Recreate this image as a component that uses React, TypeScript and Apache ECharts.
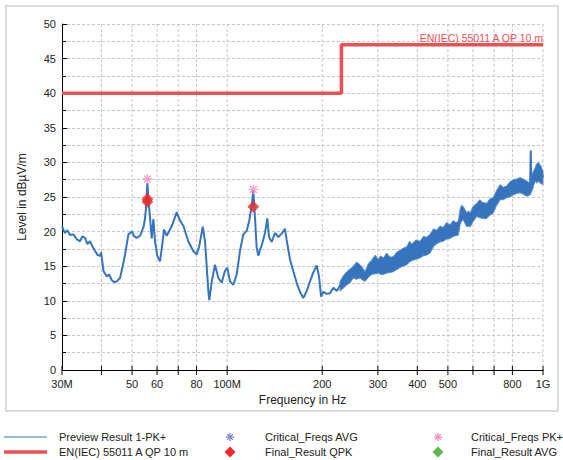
import React, { useEffect, useRef } from "react";
import * as echarts from "echarts";

// Preview Result 1-PK+ (frequency in MHz, level in dBµV/m)
const traceFreqs = [
  30.0, 30.6, 31.2, 31.8, 32.6, 33.4, 34.2, 34.8, 35.5, 36.1, 36.8, 37.5, 38.2, 38.9, 39.6, 39.9,
  40.6, 41.6, 42.3, 43.1, 43.9, 44.7, 45.8, 46.6, 47.5, 48.7, 49.9, 50.8, 51.7, 53.0, 54.3, 55.0,
  55.4, 55.9, 56.4, 57.0, 57.7, 58.4, 59.1, 60.1, 61.3, 62.5, 63.1, 64.4, 66.8, 69.2, 70.9, 72.7,
  75.3, 78.1, 80.1, 81.6, 83.7, 85.1, 87.2, 87.8, 89.4, 91.5, 93.8, 96.1, 98.4, 100.1, 102.1, 104.6,
  107.2, 109.8, 112.5, 115.3, 117.5, 119.6, 121.0, 122.5, 124.0, 125.5, 127.0, 129.2, 131.8, 134.0,
  135.7, 138.4, 141.7, 145.2, 148.8, 152.4, 154.3, 158.1, 161.9, 166.0, 170.0, 174.2, 178.6, 183.0,
  187.4, 192.2, 195.4, 198.3, 201.6, 206.7, 211.7, 216.9, 222.3, 227.7, 239.1, 250.9, 263.5, 273.3,
  287.0, 301.1, 312.3, 335.9, 352.7, 370.3, 384.1, 408.0, 438.9, 472.1, 507.9, 539.6, 546.3, 559.6,
  573.6, 588.1, 617.0, 663.7, 696.3, 713.8, 731.3, 767.8, 805.7, 846.1, 888.4, 910.0, 914.7, 918.0,
  943.8, 966.8, 978.9, 1000,
];
const traceLevels = [
  20.8, 19.8, 20.2, 19.5, 19.6, 18.9, 18.6, 19.3, 19.1, 18.2, 18.6, 17.8, 17.2, 16.6, 16.5, 17.0,
  14.3, 13.5, 13.8, 13.0, 12.7, 12.8, 13.3, 14.8, 16.7, 19.6, 20.0, 19.3, 19.1, 19.4, 20.6, 22.0,
  23.7, 27.0, 24.5, 22.0, 19.0, 21.8, 18.6, 16.5, 15.7, 18.6, 20.3, 19.4, 20.8, 22.8, 21.6, 20.8,
  18.6, 17.2, 16.7, 17.9, 20.7, 18.6, 11.4, 10.1, 12.8, 15.2, 13.3, 12.6, 14.3, 14.8, 12.8, 12.3,
  13.8, 17.2, 19.6, 20.1, 21.6, 23.7, 26.0, 22.0, 17.7, 16.5, 17.3, 18.3, 19.8, 21.9,
  19.2, 18.5, 19.8, 19.2, 19.7, 20.4, 18.8, 16.0, 14.3, 12.6, 11.3, 10.4, 11.4, 12.8,
  14.1, 15.1, 13.5, 10.6, 11.3, 11.0, 11.1, 11.9, 11.4, 12.2, 13.2, 14.2, 14.3, 13.5,
  14.8, 15.0, 15.0, 15.3, 15.9, 16.5, 17.0, 17.4, 18.2, 19.6, 20.0, 20.5, 22.1, 22.6,
  21.6, 21.7, 23.1, 23.0, 23.8, 24.6, 25.7, 25.7, 26.4, 26.7, 26.2, 26.0, 31.7, 26.3,
  28.2, 28.8, 29.5, 27.8,
];

// Noise band of the trace above ~230 MHz (lower / upper envelope)
const bandFreqs = [
  227.7, 233, 239.1, 245, 250.9, 257, 263.5, 268, 273.3, 280, 287.0, 294, 301.1, 306, 312.3, 320,
  328, 335.9, 344, 352.7, 361, 370.3, 378, 384.1, 396, 408.0, 418, 428, 438.9, 450, 460, 472.1,
  483, 495, 507.9, 520, 530, 539.6, 546.3, 552, 559.6, 566, 573.6, 580, 588.1, 600, 617.0, 630,
  645, 663.7, 680, 696.3, 710, 731.3, 748, 767.8, 785, 805.7, 825, 846.1, 866, 888.4, 910.0, 925,
  943.8, 955, 966.8, 980, 1000,
];
const bandLow = [
  11.4, 11.8, 12.3, 12.6, 13.3, 13.1, 13.3, 13.0, 12.8, 13.4, 13.8, 13.9, 14.0, 13.8, 13.8, 14.0,
  14.1, 14.2, 14.5, 14.8, 15.0, 15.2, 15.6, 15.8, 16.0, 16.2, 16.5, 16.6, 16.9, 17.8, 18.2, 18.5,
  18.6, 18.9, 19.0, 19.3, 19.4, 19.5, 21.0, 21.5, 21.7, 21.2, 20.7, 20.8, 20.7, 21.4, 22.2, 22.0,
  21.9, 21.9, 22.4, 22.7, 23.6, 24.6, 24.6, 24.9, 25.0, 25.3, 25.5, 25.6, 25.4, 25.1, 25.3, 26.0,
  27.3, 27.0, 27.3, 27.0, 26.8,
];
const bandHigh = [
  12.8, 13.6, 14.2, 14.6, 15.0, 15.6, 15.2, 14.8, 14.2, 15.4, 15.9, 16.6, 16.0, 16.5, 16.2, 16.9,
  16.3, 16.4, 17.0, 17.3, 17.6, 17.8, 18.6, 18.2, 18.8, 18.6, 19.3, 19.2, 19.6, 20.4, 20.2, 20.8,
  20.6, 21.3, 21.0, 21.6, 21.3, 21.5, 23.2, 23.8, 23.6, 23.2, 22.7, 23.0, 22.7, 23.6, 24.1, 24.6,
  24.2, 24.1, 24.8, 24.9, 25.8, 26.8, 26.4, 26.6, 27.2, 27.5, 27.6, 27.8, 27.6, 27.3, 27.0, 28.4,
  29.2, 29.8, 30.0, 29.6, 28.7,
];

// EN(IEC) 55011 A QP 10 m limit
const limitFreqs = [30, 230, 230, 1000];
const limitLevels = [40, 40, 47, 47];

const critPkFreqs = [55.9, 121.0];
const critPkLevels = [27.6, 26.1];
const critAvgFreqs: number[] = [];
const critAvgLevels: number[] = [];
const qpkFreqs = [55.9, 55.9, 121.0];
const qpkLevels = [24.3, 24.7, 23.6];
const finalAvgFreqs: number[] = [];
const finalAvgLevels: number[] = [];

const xTickFreqs = [30, 40, 50, 60, 70, 80, 100, 200, 300, 400, 500, 600, 700, 800, 1000];
const xTickLabels = ["30M", "", "50", "60", "", "80", "100M", "200", "300", "400", "500", "", "", "800", "1G"];

const BLUE = "#3674bd";
const LIMIT = "#ee4f55";
const PINK = "#f28cbf";
const AVGBLUE = "#7b7fd6";
const RED = "#ee2a2a";
const GREEN = "#5db84a";
const GRID = "#c6c6c6";
const FONT = "'Liberation Sans', Arial, sans-serif";
const ASTERISK = "path://M0 4.3H10V5.7H0Z M4.3 0H5.7V10H4.3Z M1 2L2 1L9 8L8 9Z M8 1L9 2L2 9L1 8Z";

function pairs(xs: number[], ys: number[]) {
  return xs.map((x, i) => [x, ys[i]]);
}

function asteriskGraphic(cx: number, cy: number, r: number, color: string) {
  const d = r * 0.72;
  return {
    type: "group",
    children: [
      { type: "line", shape: { x1: cx - r, y1: cy, x2: cx + r, y2: cy }, style: { stroke: color, lineWidth: 1.3 } },
      { type: "line", shape: { x1: cx, y1: cy - r, x2: cx, y2: cy + r }, style: { stroke: color, lineWidth: 1.3 } },
      { type: "line", shape: { x1: cx - d, y1: cy - d, x2: cx + d, y2: cy + d }, style: { stroke: color, lineWidth: 1.3 } },
      { type: "line", shape: { x1: cx + d, y1: cy - d, x2: cx - d, y2: cy + d }, style: { stroke: color, lineWidth: 1.3 } },
    ],
  };
}

function diamondGraphic(cx: number, cy: number, r: number, color: string) {
  return {
    type: "polygon",
    shape: { points: [[cx, cy - r], [cx + r, cy], [cx, cy + r], [cx - r, cy]] },
    style: { fill: color },
  };
}

function legendText(x: number, y: number, text: string) {
  return {
    type: "text",
    x,
    y,
    style: { text, fill: "#222", fontSize: 11, fontFamily: FONT, align: "left", verticalAlign: "middle" },
  };
}

export default function App() {
  const ref = useRef<HTMLDivElement>(null);

  useEffect(() => {
    document.body.style.margin = "0";
    if (!ref.current) return;
    const chart = echarts.init(ref.current, undefined, { renderer: "svg" });

    const row1 = 437;
    const row2 = 452;

    chart.setOption({
      animation: false,
      backgroundColor: "#ffffff",
      textStyle: { fontFamily: FONT },
      grid: { left: 62, right: 20, top: 24, bottom: 90 },
      xAxis: {
        type: "log",
        logBase: 10,
        min: 30,
        max: 1000,
        name: "Frequency in Hz",
        nameLocation: "middle",
        nameGap: 24,
        nameTextStyle: { fontSize: 12, color: "#222", fontFamily: FONT },
        axisLine: { show: true, lineStyle: { color: "#000", width: 1 } },
        axisTick: { show: false },
        axisLabel: { show: false },
        splitLine: { show: false },
        minorTick: { show: false },
      },
      yAxis: {
        type: "value",
        min: 0,
        max: 50,
        interval: 5,
        name: "Level in dBµV/m",
        nameLocation: "middle",
        nameGap: 34,
        nameTextStyle: { fontSize: 12, color: "#222", fontFamily: FONT },
        axisLine: { show: true, lineStyle: { color: "#000", width: 1 } },
        axisTick: { show: true, inside: true, length: 5, lineStyle: { color: "#000" } },
        minorTick: { show: true, splitNumber: 2, length: 4, lineStyle: { color: "#000" } },
        axisLabel: { fontSize: 11, color: "#222", margin: 6, fontFamily: FONT },
        splitLine: { show: true, lineStyle: { color: GRID, width: 1, type: [3, 2] } },
        minorSplitLine: { show: true, lineStyle: { color: GRID, width: 1, type: [3, 2] } },
      },
      series: [
        {
          type: "custom",
          name: "xticks",
          silent: true,
          clip: false,
          z: 1,
          data: xTickFreqs.map((f) => [f, 0]),
          renderItem: (params: any, api: any) => {
            const i = params.dataIndex;
            const f = xTickFreqs[i];
            const p0 = api.coord([f, 0]);
            const p1 = api.coord([f, 50]);
            const children: any[] = [];
            if (i > 0) {
              children.push({
                type: "line",
                shape: { x1: p0[0], y1: p1[1], x2: p0[0], y2: p0[1] },
                style: { stroke: GRID, lineWidth: 1, lineDash: [3, 2] },
              });
            }
            children.push({
              type: "line",
              shape: { x1: p0[0], y1: p0[1] - 4, x2: p0[0], y2: p0[1] + 5 },
              style: { stroke: "#000", lineWidth: 1 },
            });
            if (xTickLabels[i]) {
              children.push({
                type: "text",
                x: p0[0],
                y: p0[1] + 14,
                style: {
                  text: xTickLabels[i],
                  fill: "#222",
                  fontSize: 11,
                  fontFamily: FONT,
                  align: "center",
                  verticalAlign: "middle",
                },
              });
            }
            return { type: "group", children };
          },
        },
        {
          type: "custom",
          name: "Preview Result 1-PK+ band",
          silent: true,
          z: 2,
          data: [[bandFreqs[0], bandLow[0]]],
          renderItem: (_params: any, api: any) => {
            const up = bandFreqs.map((f, i) => api.coord([f, bandHigh[i]]));
            const dn = bandFreqs.map((f, i) => api.coord([f, bandLow[i]])).reverse();
            return {
              type: "polygon",
              shape: { points: up.concat(dn) },
              style: { fill: BLUE, stroke: "#5a8fcc", lineWidth: 1 },
            };
          },
        },
        {
          type: "line",
          name: "Preview Result 1-PK+",
          data: pairs(traceFreqs, traceLevels),
          showSymbol: false,
          z: 3,
          lineStyle: { color: BLUE, width: 2 },
          itemStyle: { color: BLUE },
        },
        {
          type: "line",
          name: "EN(IEC) 55011 A QP 10 m",
          data: pairs(limitFreqs, limitLevels),
          showSymbol: false,
          z: 4,
          lineStyle: { color: LIMIT, width: 3.5 },
          itemStyle: { color: LIMIT },
        },
        {
          type: "scatter",
          name: "Critical_Freqs AVG",
          data: pairs(critAvgFreqs, critAvgLevels),
          symbol: ASTERISK,
          symbolSize: 10,
          z: 6,
          itemStyle: { color: AVGBLUE },
        },
        {
          type: "scatter",
          name: "Final_Result QPK",
          data: pairs(qpkFreqs, qpkLevels),
          symbol: "diamond",
          symbolSize: 12,
          z: 5,
          itemStyle: { color: RED },
        },
        {
          type: "scatter",
          name: "Critical_Freqs PK+",
          data: pairs(critPkFreqs, critPkLevels),
          symbol: ASTERISK,
          symbolSize: 10,
          z: 6,
          itemStyle: { color: PINK },
        },
        {
          type: "scatter",
          name: "Final_Result AVG",
          data: pairs(finalAvgFreqs, finalAvgLevels),
          symbol: "diamond",
          symbolSize: 12,
          z: 5,
          itemStyle: { color: GREEN },
        },
      ],
      graphic: [
        {
          type: "rect",
          silent: true,
          z: -10,
          shape: { x: 6, y: 6, width: 552, height: 405 },
          style: { fill: "none", stroke: "#cfcfcf", lineWidth: 1.5 },
        },
        {
          type: "text",
          x: 543,
          y: 43,
          z: 10,
          style: {
            text: "EN(IEC) 55011 A QP 10 m",
            fill: LIMIT,
            fontSize: 10.5,
            fontFamily: FONT,
            align: "right",
            verticalAlign: "bottom",
          },
        },
        { type: "line", shape: { x1: 4, y1: row1, x2: 47, y2: row1 }, style: { stroke: BLUE, lineWidth: 1 } },
        legendText(59, row1, "Preview Result 1-PK+"),
        { type: "line", shape: { x1: 4, y1: row2, x2: 47, y2: row2 }, style: { stroke: LIMIT, lineWidth: 3.5 } },
        legendText(59, row2, "EN(IEC) 55011 A QP 10 m"),
        asteriskGraphic(230, row1, 4, AVGBLUE),
        legendText(265, row1, "Critical_Freqs AVG"),
        diamondGraphic(230, row2, 5.5, RED),
        legendText(265, row2, "Final_Result QPK"),
        asteriskGraphic(438, row1, 4, PINK),
        legendText(471, row1, "Critical_Freqs PK+"),
        diamondGraphic(438, row2, 5.5, GREEN),
        legendText(471, row2, "Final_Result AVG"),
      ],
    });

    return () => {
      chart.dispose();
    };
  }, []);

  return <div ref={ref} style={{ width: 563, height: 460 }} />;
}
